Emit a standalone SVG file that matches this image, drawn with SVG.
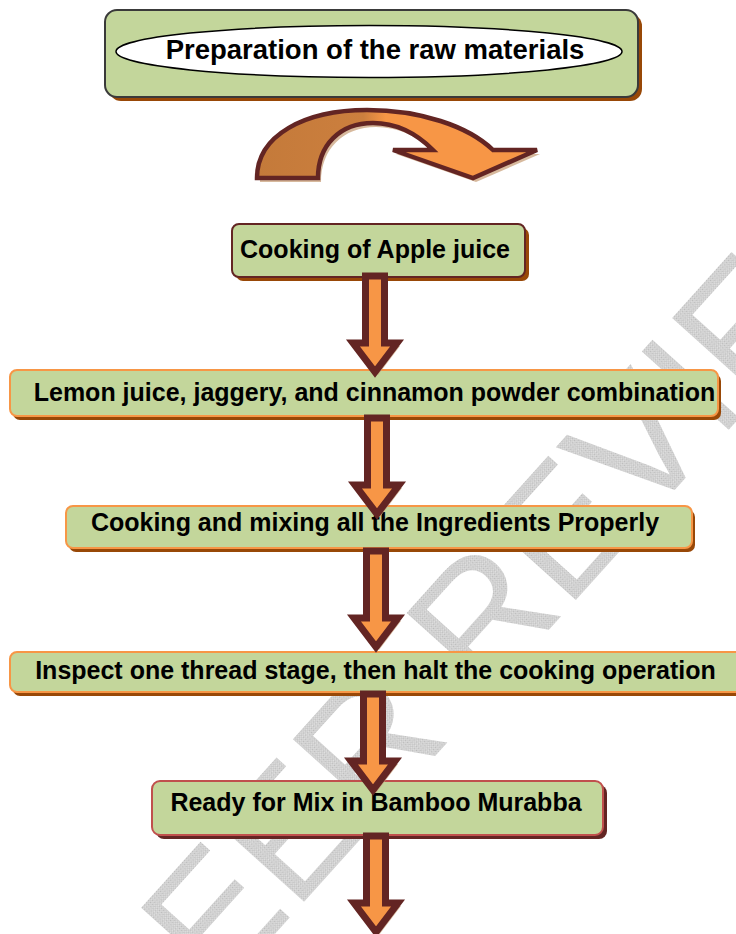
<svg xmlns="http://www.w3.org/2000/svg" width="736" height="934" viewBox="0 0 736 934">
<defs>
<style>
.box{fill:#C3D69B;stroke-width:2}
.lbl{font-family:"Liberation Sans",Arial,sans-serif;font-weight:bold;font-size:25px;fill:#000;text-anchor:middle}
.arr{fill:#F79646;stroke:#632523;stroke-width:7;stroke-linejoin:miter;stroke-miterlimit:10}
.ash{fill:#C9A27C;opacity:0.75}
.wm{font-family:"Liberation Sans",Arial,sans-serif;font-size:170px;fill:url(#hatch)}
</style>
<pattern id="hatch" width="3" height="3" patternUnits="userSpaceOnUse">
<rect width="3" height="3" fill="#E2E2E2"/>
<rect width="1.5" height="1.5" fill="#BABABA"/>
<rect x="1.5" y="1.5" width="1.5" height="1.5" fill="#C6C6C6"/>
</pattern>
<linearGradient id="cg" x1="257" y1="0" x2="537" y2="0" gradientUnits="userSpaceOnUse">
<stop offset="0" stop-color="#C47A3A"/>
<stop offset="0.38" stop-color="#CC7F3E"/>
<stop offset="0.46" stop-color="#F79646"/>
<stop offset="1" stop-color="#F79646"/>
</linearGradient>
<path id="down" d="M-9.5,0 L-9.5,67 L-22,67 L0,96 L22,67 L9.5,67 L9.5,0 Z"/>
</defs>
<rect width="736" height="934" fill="#fff"/>

<text class="wm" transform="translate(933,203) rotate(-48)" text-anchor="end">FOR PEER REVIEW</text>

<g id="n1">
<rect x="109" y="14" width="533" height="87" rx="12" fill="#984807"/>
<rect class="box" x="105" y="10" width="533" height="87" rx="12" stroke="#3A3A3A" stroke-width="2.5"/>
<ellipse cx="369" cy="51.5" rx="253" ry="26" fill="#fff" stroke="#000" stroke-width="1.5"/>
<text class="lbl" x="375" y="59" style="font-size:27.5px">Preparation of the raw materials</text>
</g>

<g id="curved-arrow">
<path class="ash" transform="translate(3,4)" d="M257,178 C257,135 305,110 367,110 C420,110 468,126 493,150 L537,150 L473,178 L393,150 L433,150 C415,132 395,123 373,123 C340,123 318,145 318,178 Z"/>
<path d="M257,178 C257,135 305,110 367,110 C420,110 468,126 493,150 L537,150 L473,178 L393,150 L433,150 C415,132 395,123 373,123 C340,123 318,145 318,178 Z" fill="url(#cg)" stroke="#632523" stroke-width="4.5" stroke-linejoin="miter"/>
</g>

<g id="n2">
<rect x="236" y="228" width="293" height="53" rx="7" fill="#984807"/>
<rect class="box" x="232" y="224" width="293" height="53" rx="7" stroke="#632523"/>
<text class="lbl" x="375" y="258">Cooking of Apple juice</text>
</g>

<g id="n3">
<rect x="13" y="374" width="708" height="46" rx="7" fill="#984807"/>
<rect class="box" x="10" y="370" width="708" height="46" rx="7" stroke="#F79646"/>
<text class="lbl" x="374.5" y="401">Lemon juice, jaggery, and cinnamon powder combination</text>
</g>

<g id="n4">
<rect x="69" y="510" width="626" height="42" rx="7" fill="#984807"/>
<rect class="box" x="66" y="506" width="626" height="42" rx="7" stroke="#F79646"/>
<text class="lbl" x="375" y="531">Cooking and mixing all the Ingredients Properly</text>
</g>

<g id="n5">
<rect x="13" y="656" width="740" height="40" rx="7" fill="#984807"/>
<rect class="box" x="10" y="652" width="740" height="40" rx="7" stroke="#F79646"/>
<text class="lbl" x="375.5" y="679">Inspect one thread stage, then halt the cooking operation</text>
</g>

<g id="n6">
<rect x="156" y="785" width="451" height="54" rx="8" fill="#632523"/>
<rect class="box" x="152" y="781" width="451" height="54" rx="8" stroke="#C0504D"/>
<text class="lbl" x="376" y="811">Ready for Mix in Bamboo Murabba</text>
</g>

<g id="connectors">
<g transform="translate(375,276)"><use href="#down" class="ash" transform="translate(3,3)"/><use href="#down" class="arr"/></g>
<g transform="translate(377,418)"><use href="#down" class="ash" transform="translate(3,3)"/><use href="#down" class="arr"/></g>
<g transform="translate(376,551)"><use href="#down" class="ash" transform="translate(3,3)"/><use href="#down" class="arr"/></g>
<g transform="translate(373,694)"><use href="#down" class="ash" transform="translate(3,3)"/><use href="#down" class="arr"/></g>
<g transform="translate(376,836)"><use href="#down" class="ash" transform="translate(3,3)"/><use href="#down" class="arr"/></g>
</g>
</svg>
